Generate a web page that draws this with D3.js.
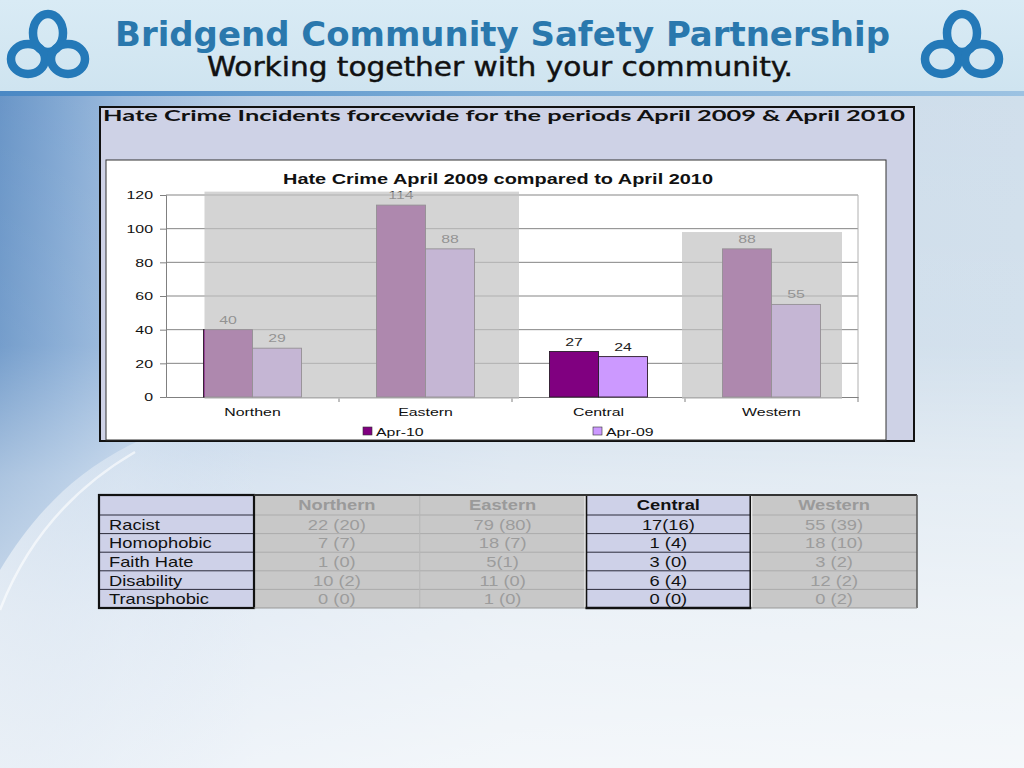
<!DOCTYPE html>
<html>
<head>
<meta charset="utf-8">
<script src="https://cdn.jsdelivr.net/npm/d3@7"></script>
<style>
  html, body { margin: 0; padding: 0; background: #dfe8f0; }
  svg { display: block; }
</style>
</head>
<body>
<svg id="slide" width="1024" height="768"></svg>
<script>
// ---------- DATA ----------
const headerTitle = "Bridgend Community Safety Partnership";
const headerSubtitle = "Working together with your community.";
const boxTitle = "Hate Crime Incidents forcewide for the periods  April 2009 & April 2010";
const chartTitle = "Hate Crime April 2009 compared to April 2010";
const categories = ["Northen", "Eastern", "Central", "Western"];
const seriesNames = ["Apr-10", "Apr-09"];
const apr10 = [40, 114, 27, 88];
const apr09 = [29, 88, 24, 55];
const yTickValues = [0, 20, 40, 60, 80, 100, 120];
const highlighted = "Central";
const dimGroups = [["Northen", "Eastern", 122], ["Western", "Western", 98]];

const tableColumns = ["Northern", "Eastern", "Central", "Western"];
const tableRowLabels = ["Racist", "Homophobic", "Faith Hate", "Disability", "Transphobic"];
const northernCells = ["22 (20)", "7 (7)", "1 (0)", "10 (2)", "0 (0)"];
const easternCells = ["79 (80)", "18 (7)", "5(1)", "11 (0)", "1 (0)"];
const centralCells = ["17(16)", "1 (4)", "3 (0)", "6 (4)", "0 (0)"];
const westernCells = ["55 (39)", "18 (10)", "3 (2)", "12 (2)", "0 (2)"];
const tableHighlight = "Central";

// ---------- HELPERS ----------
const font = "'Liberation Sans', Arial, sans-serif";
function stretch(sel, f) {
  sel.each(function () {
    const w = this.getComputedTextLength();
    d3.select(this).attr("textLength", w * f).attr("lengthAdjust", "spacingAndGlyphs");
  });
  return sel;
}

// ---------- DRAW ----------
const svg = d3.select("#slide");
const defs = svg.append("defs");

const bgH = defs.append("linearGradient").attr("id", "bgH").attr("x1", 0).attr("x2", 1).attr("y1", 0).attr("y2", 0);
[[0, "#6693c6"], [0.06, "#7fa6d2"], [0.12, "#9ab9dc"], [0.25, "#b9cee5"], [0.5, "#c9d9e9"], [1, "#cfdeeb"]]
  .forEach(([o, c]) => bgH.append("stop").attr("offset", o).attr("stop-color", c));
const bgV = defs.append("linearGradient").attr("id", "bgV").attr("x1", 0).attr("x2", 0).attr("y1", 0).attr("y2", 1);
[[0, 0], [0.45, 0.1], [0.62, 0.45], [0.8, 0.65], [1, 0.78]]
  .forEach(([o, op]) => bgV.append("stop").attr("offset", o).attr("stop-color", "#ffffff").attr("stop-opacity", op));
const sw = defs.append("linearGradient").attr("id", "sw").attr("gradientUnits", "userSpaceOnUse")
  .attr("x1", 0).attr("x2", 260).attr("y1", 0).attr("y2", 0);
[[0, 0.7], [0.5, 0.4], [1, 0]]
  .forEach(([o, op]) => sw.append("stop").attr("offset", o).attr("stop-color", "#eef3f8").attr("stop-opacity", op));
const hdr = defs.append("linearGradient").attr("id", "hdr").attr("x1", 0).attr("x2", 0).attr("y1", 0).attr("y2", 1);
[[0, "#d9ebf5"], [1, "#cfe4f0"]].forEach(([o, c]) => hdr.append("stop").attr("offset", o).attr("stop-color", c));
const strip = defs.append("linearGradient").attr("id", "strip").attr("x1", 0).attr("x2", 1);
[[0, "#4a88c4"], [0.5, "#7eaed8"], [1, "#9cc2e2"]].forEach(([o, c]) => strip.append("stop").attr("offset", o).attr("stop-color", c));

svg.append("rect").attr("width", 1024).attr("height", 768).attr("fill", "url(#bgH)");
svg.append("rect").attr("width", 1024).attr("height", 768).attr("fill", "url(#bgV)");
svg.append("path")
  .attr("d", "M0,570 C30,520 70,475 130,445 C170,425 220,410 260,400 L260,768 L0,768 Z")
  .attr("fill", "url(#sw)");
svg.append("path")
  .attr("d", "M0,610 C25,545 70,490 135,452")
  .attr("fill", "none").attr("stroke", "#ffffff").attr("stroke-width", 2.5).attr("opacity", 0.6);

// header band
svg.append("rect").attr("x", 0).attr("y", 0).attr("width", 1024).attr("height", 91).attr("fill", "url(#hdr)");
svg.append("rect").attr("x", 0).attr("y", 91).attr("width", 1024).attr("height", 5).attr("fill", "url(#strip)");

function logo(cx) {
  const g = svg.append("g").attr("transform", `translate(${cx},45)`)
    .attr("fill", "none").attr("stroke", "#2479b8").attr("stroke-width", 8.5);
  g.append("ellipse").attr("cx", 0).attr("cy", -12).attr("rx", 15).attr("ry", 19);
  g.append("ellipse").attr("cx", -20).attr("cy", 14).attr("rx", 17).attr("ry", 15);
  g.append("ellipse").attr("cx", 20).attr("cy", 14).attr("rx", 17).attr("ry", 15);
}
logo(48);
logo(962);

svg.append("text").attr("x", 115).attr("y", 46).text(headerTitle)
  .attr("font-family", "'DejaVu Sans Condensed', 'DejaVu Sans', sans-serif").attr("font-weight", "bold")
  .attr("font-size", 33).attr("fill", "#2a78ad")
  .attr("textLength", 775).attr("lengthAdjust", "spacingAndGlyphs");
svg.append("text").attr("x", 207).attr("y", 76).text(headerSubtitle)
  .attr("font-family", "'DejaVu Sans Condensed', 'DejaVu Sans', sans-serif")
  .attr("font-size", 27).attr("fill", "#111").attr("stroke", "#111").attr("stroke-width", 0.4)
  .attr("textLength", 586).attr("lengthAdjust", "spacingAndGlyphs");

// outer chart box
svg.append("rect").attr("x", 100).attr("y", 107).attr("width", 814).attr("height", 334)
  .attr("fill", "#ced2e6").attr("stroke", "#111").attr("stroke-width", 2);
svg.append("text").attr("x", 103).attr("y", 121).text(boxTitle)
  .attr("font-family", "Lato, 'Open Sans', sans-serif").attr("font-weight", "bold")
  .attr("font-size", 15.5).attr("fill", "#111")
  .attr("textLength", 802).attr("lengthAdjust", "spacingAndGlyphs");

// inner white chart area
svg.append("rect").attr("x", 106).attr("y", 160).attr("width", 780).attr("height", 280)
  .attr("fill", "#ffffff").attr("stroke", "#333").attr("stroke-width", 1);
svg.append("text").attr("x", 498).attr("y", 184).attr("text-anchor", "middle").text(chartTitle)
  .attr("font-family", font).attr("font-weight", "bold")
  .attr("font-size", 14).attr("fill", "#111")
  .attr("textLength", 430).attr("lengthAdjust", "spacingAndGlyphs");

const plot = { left: 166, right: 858, top: 195, bottom: 397 };
const y = d3.scaleLinear().domain([0, 120]).range([plot.bottom, plot.top]);
const x = d3.scaleBand().domain(categories).range([plot.left, plot.right]).padding(0);
const xs = d3.scaleBand().domain(seriesNames).range([0, x.bandwidth()]).paddingInner(0).paddingOuter(0.765);
const colors = d3.scaleOrdinal().domain(seriesNames).range(["#800080", "#cc99ff"]);
const SX = 1.38;

// gridlines
svg.append("g").selectAll("line").data(yTickValues.filter(v => v > 0)).join("line")
  .attr("x1", plot.left).attr("x2", plot.right)
  .attr("y1", d => y(d)).attr("y2", d => y(d))
  .attr("stroke", "#858585").attr("stroke-width", 1);
svg.append("line").attr("x1", plot.right).attr("x2", plot.right).attr("y1", plot.top).attr("y2", plot.bottom)
  .attr("stroke", "#b0b0b0");

// axes
const yAxis = svg.append("g").attr("transform", `translate(${plot.left},0)`)
  .call(d3.axisLeft(y).tickValues(yTickValues).tickSize(6).tickPadding(7));
yAxis.selectAll("text").attr("font-family", font).attr("font-size", 11.5).attr("fill", "#111");
yAxis.selectAll("line, path").attr("stroke", "#808080");
stretch(yAxis.selectAll("text"), SX);

const xAxis = svg.append("g").attr("transform", `translate(0,${plot.bottom})`)
  .call(d3.axisBottom(x).tickSize(0).tickPadding(11));
xAxis.selectAll("text").attr("font-family", font).attr("font-size", 11.5).attr("fill", "#111");
xAxis.select("path").attr("stroke", "#808080");
stretch(xAxis.selectAll("text"), SX);
svg.append("g").selectAll("line").data(categories.slice(1).concat(["__end"])).join("line")
  .attr("x1", d => d === "__end" ? plot.right : x(d)).attr("x2", d => d === "__end" ? plot.right : x(d))
  .attr("y1", plot.bottom).attr("y2", plot.bottom + 5).attr("stroke", "#808080");

// bars
const rows = categories.map((c, i) => ({ cat: c, vals: [apr10[i], apr09[i]] }));
const groups = svg.append("g").selectAll("g").data(rows).join("g")
  .attr("transform", d => `translate(${x(d.cat)},0)`);
groups.selectAll("rect").data(d => d.vals.map((v, j) => ({ s: seriesNames[j], v }))).join("rect")
  .attr("x", d => xs(d.s)).attr("width", xs.bandwidth())
  .attr("y", d => y(d.v)).attr("height", d => y(0) - y(d.v))
  .attr("fill", d => colors(d.s)).attr("stroke", "#2a1a2a").attr("stroke-width", 0.9);
const valueLabels = groups.selectAll("text").data(d => d.vals.map((v, j) => ({ s: seriesNames[j], v }))).join("text")
  .attr("x", d => xs(d.s) + xs.bandwidth() / 2).attr("y", d => y(d.v) - 6)
  .attr("text-anchor", "middle").attr("font-family", font).attr("font-size", 11.5).attr("fill", "#222")
  .text(d => d.v);
stretch(valueLabels, SX);

// grey dimming overlays for non-highlighted regions
function dimLeft(d) { return d[0] === categories[0] ? x(d[0]) + xs(seriesNames[0]) + 1 : x(d[0]) - 3; }
function dimRight(d) { return d[1] === categories[categories.length - 1] ? x(d[1]) + x.bandwidth() - 16 : x(d[1]) + x.bandwidth() + 7; }
svg.append("g").selectAll("rect").data(dimGroups).join("rect")
  .attr("x", dimLeft).attr("width", d => dimRight(d) - dimLeft(d))
  .attr("y", d => y(d[2])).attr("height", d => plot.bottom + 2 - y(d[2]))
  .attr("fill", "rgb(194,194,194)").attr("opacity", 0.7);

// legend
const legend = svg.append("g").selectAll("g").data(seriesNames).join("g")
  .attr("transform", (d, i) => `translate(${i === 0 ? 363 : 593},427)`);
legend.append("rect").attr("width", 9).attr("height", 8).attr("fill", d => colors(d))
  .attr("stroke", "#333").attr("stroke-width", 0.6);
stretch(legend.append("text").attr("x", 13).attr("y", 8.5).text(d => d)
  .attr("font-family", font).attr("font-size", 11.5).attr("fill", "#111"), SX);

// ---------- TABLE ----------
const colCells = [northernCells, easternCells, centralCells, westernCells];
const tbl = { left: 99, labelRight: 254, right: 917, top: 495, headBottom: 515, bottom: 608 };
const tx = d3.scaleBand().domain(tableColumns).range([tbl.labelRight, tbl.right]);
const ty = d3.scaleBand().domain(tableRowLabels).range([tbl.headBottom, tbl.bottom]);
const lav = "#ced1e8", grey = "#c8c8c8";
const TSX = 1.22;

const tg = svg.append("g");
tg.append("rect").attr("x", tbl.left).attr("y", tbl.top).attr("width", tbl.labelRight - tbl.left)
  .attr("height", tbl.bottom - tbl.top).attr("fill", lav);
tableColumns.forEach((col, ci) => {
  const hl = col === tableHighlight;
  tg.append("rect").attr("x", tx(col)).attr("y", tbl.top).attr("width", tx.bandwidth())
    .attr("height", tbl.bottom - tbl.top).attr("fill", hl ? lav : grey);
  const seps = [tbl.headBottom].concat(tableRowLabels.slice(1).map(r => ty(r)));
  tg.append("g").selectAll("line").data(seps).join("line")
    .attr("x1", tx(col)).attr("x2", tx(col) + tx.bandwidth())
    .attr("y1", d => d).attr("y2", d => d)
    .attr("stroke", hl ? "#2a2a3a" : "#acacac").attr("stroke-width", 1);
  stretch(tg.append("text").attr("x", tx(col) + tx.bandwidth() / 2).attr("y", tbl.top + 15)
    .attr("text-anchor", "middle").attr("font-family", font).attr("font-weight", "bold")
    .attr("font-size", 15).attr("fill", hl ? "#111" : "#9a9a9a").text(col), TSX);
  colCells[ci].forEach((v, ri) => {
    stretch(tg.append("text").attr("x", tx(col) + tx.bandwidth() / 2)
      .attr("y", ty(tableRowLabels[ri]) + ty.bandwidth() / 2 + 5.5)
      .attr("text-anchor", "middle").attr("font-family", font).attr("font-size", 15)
      .attr("fill", hl ? "#111" : "#9c9c9c").text(v), TSX);
  });
});
tg.append("line").attr("x1", tx("Eastern")).attr("x2", tx("Eastern")).attr("y1", tbl.top).attr("y2", tbl.bottom).attr("stroke", "#b4b4b4");
tg.append("line").attr("x1", tx("Central")).attr("x2", tx("Central")).attr("y1", tbl.top).attr("y2", tbl.bottom).attr("stroke", "#f4f4f4").attr("stroke-width", 2);
tg.append("line").attr("x1", tx("Western")).attr("x2", tx("Western")).attr("y1", tbl.top).attr("y2", tbl.bottom).attr("stroke", "#f4f4f4").attr("stroke-width", 2);
tableRowLabels.forEach(r => {
  stretch(tg.append("text").attr("x", tbl.left + 10).attr("y", ty(r) + ty.bandwidth() / 2 + 5.5)
    .attr("font-family", font).attr("font-size", 15).attr("fill", "#111").text(r), TSX);
});
tg.append("g").selectAll("line").data([tbl.headBottom].concat(tableRowLabels.slice(1).map(r => ty(r)))).join("line")
  .attr("x1", tbl.left).attr("x2", tbl.labelRight).attr("y1", d => d).attr("y2", d => d)
  .attr("stroke", "#2a2a3a").attr("stroke-width", 1);
tg.append("rect").attr("x", tbl.left).attr("y", tbl.top).attr("width", tbl.labelRight - tbl.left)
  .attr("height", tbl.bottom - tbl.top).attr("fill", "none").attr("stroke", "#111").attr("stroke-width", 2.2);
tg.append("rect").attr("x", tx(tableHighlight) + 1).attr("y", tbl.top).attr("width", tx.bandwidth() - 2)
  .attr("height", tbl.bottom - tbl.top).attr("fill", "none").attr("stroke", "#111").attr("stroke-width", 1.6);
tg.append("line").attr("x1", tbl.labelRight).attr("x2", tbl.right).attr("y1", tbl.top).attr("y2", tbl.top)
  .attr("stroke", "#333").attr("stroke-width", 1.8);
tg.append("line").attr("x1", tbl.right).attr("x2", tbl.right).attr("y1", tbl.top).attr("y2", tbl.bottom)
  .attr("stroke", "#555").attr("stroke-width", 1.5);
tg.append("line").attr("x1", tbl.labelRight).attr("x2", tbl.right).attr("y1", tbl.bottom).attr("y2", tbl.bottom)
  .attr("stroke", "#999").attr("stroke-width", 1);
tg.append("line").attr("x1", tx(tableHighlight)).attr("x2", tx(tableHighlight) + tx.bandwidth()).attr("y1", tbl.bottom).attr("y2", tbl.bottom)
  .attr("stroke", "#111").attr("stroke-width", 2.5);
</script>
</body>
</html>
